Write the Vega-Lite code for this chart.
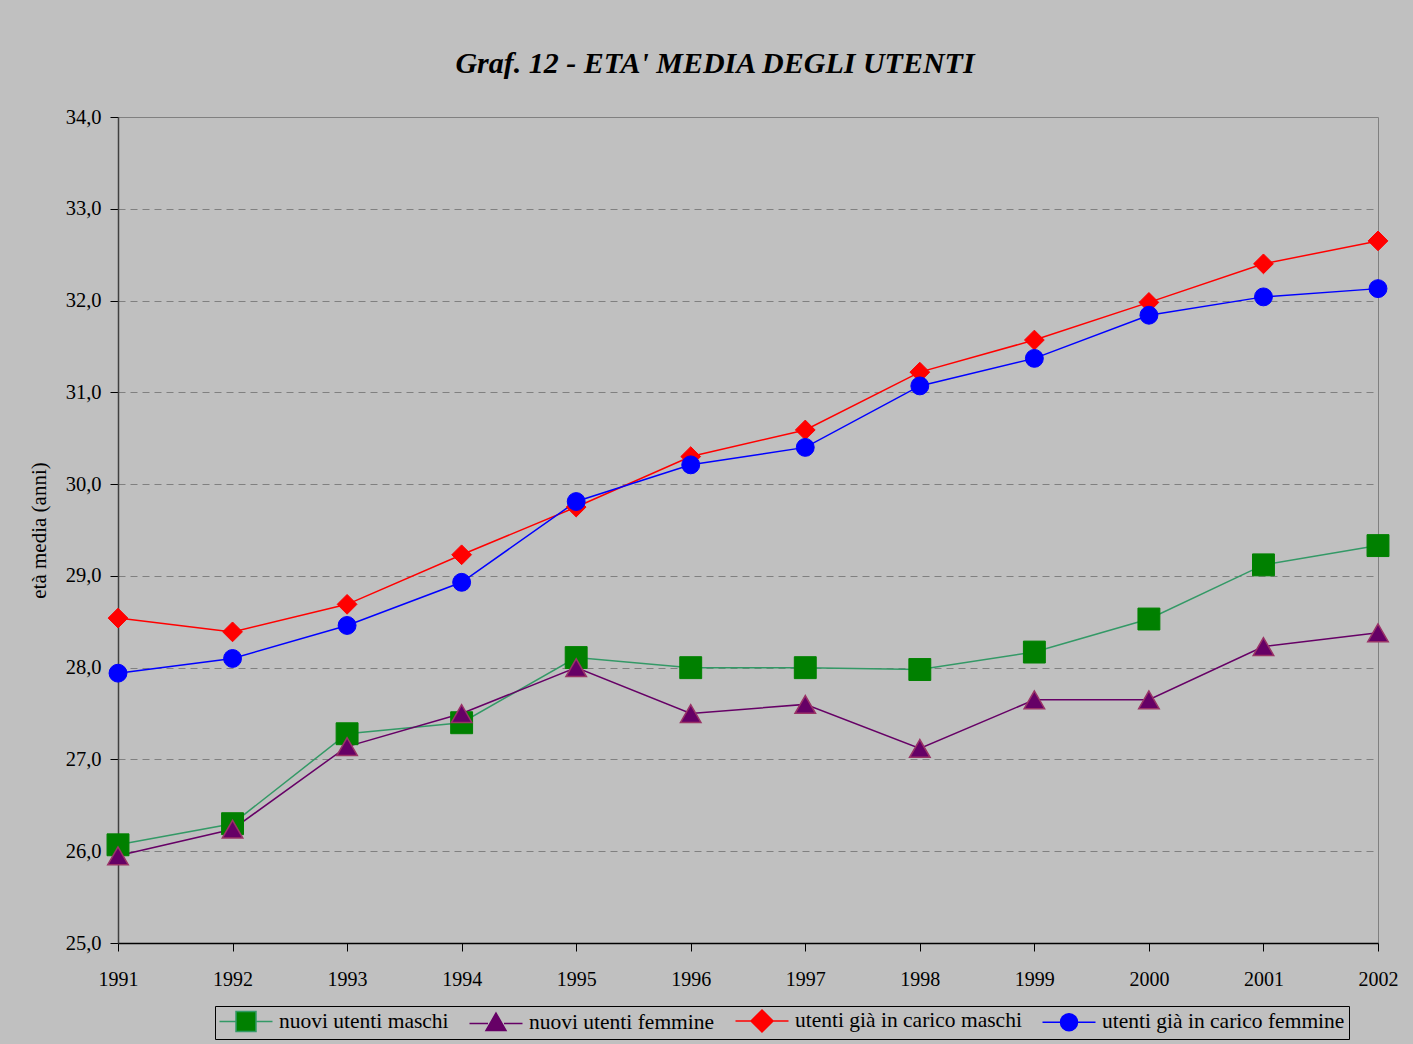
{
  "$schema": "https://vega.github.io/schema/vega-lite/v6.json",
  "width": 1260,
  "height": 826,
  "autosize": {"type": "none"},
  "padding": {"left": 118, "top": 117, "right": 35, "bottom": 101},
  "background": "#C0C0C0",
  "title": {
    "text": "Graf. 12 - ETA' MEDIA DEGLI UTENTI",
    "font": "Liberation Serif",
    "fontSize": 30,
    "fontStyle": "italic",
    "fontWeight": "bold",
    "color": "#000000",
    "anchor": "middle",
    "dx": -33,
    "offset": 28
  },
  "config": {
    "view": {"stroke": "#808080", "strokeWidth": 1},
    "axis": {"labelFont": "Liberation Serif", "titleFont": "Liberation Serif", "labelColor": "#000000", "titleColor": "#000000"}
  },
  "data": {
    "values": [
      {"anno": 1991, "serie": "nuovi utenti maschi", "eta": 26.07},
      {"anno": 1992, "serie": "nuovi utenti maschi", "eta": 26.30},
      {"anno": 1993, "serie": "nuovi utenti maschi", "eta": 27.28},
      {"anno": 1994, "serie": "nuovi utenti maschi", "eta": 27.40},
      {"anno": 1995, "serie": "nuovi utenti maschi", "eta": 28.11},
      {"anno": 1996, "serie": "nuovi utenti maschi", "eta": 28.00},
      {"anno": 1997, "serie": "nuovi utenti maschi", "eta": 28.00},
      {"anno": 1998, "serie": "nuovi utenti maschi", "eta": 27.98},
      {"anno": 1999, "serie": "nuovi utenti maschi", "eta": 28.17},
      {"anno": 2000, "serie": "nuovi utenti maschi", "eta": 28.53},
      {"anno": 2001, "serie": "nuovi utenti maschi", "eta": 29.12},
      {"anno": 2002, "serie": "nuovi utenti maschi", "eta": 29.33},
      {"anno": 1991, "serie": "nuovi utenti femmine", "eta": 25.95},
      {"anno": 1992, "serie": "nuovi utenti femmine", "eta": 26.24},
      {"anno": 1993, "serie": "nuovi utenti femmine", "eta": 27.14},
      {"anno": 1994, "serie": "nuovi utenti femmine", "eta": 27.50},
      {"anno": 1995, "serie": "nuovi utenti femmine", "eta": 28.00},
      {"anno": 1996, "serie": "nuovi utenti femmine", "eta": 27.50},
      {"anno": 1997, "serie": "nuovi utenti femmine", "eta": 27.60},
      {"anno": 1998, "serie": "nuovi utenti femmine", "eta": 27.12},
      {"anno": 1999, "serie": "nuovi utenti femmine", "eta": 27.65},
      {"anno": 2000, "serie": "nuovi utenti femmine", "eta": 27.65},
      {"anno": 2001, "serie": "nuovi utenti femmine", "eta": 28.23},
      {"anno": 2002, "serie": "nuovi utenti femmine", "eta": 28.38},
      {"anno": 1991, "serie": "utenti già in carico maschi", "eta": 28.54},
      {"anno": 1992, "serie": "utenti già in carico maschi", "eta": 28.39},
      {"anno": 1993, "serie": "utenti già in carico maschi", "eta": 28.69},
      {"anno": 1994, "serie": "utenti già in carico maschi", "eta": 29.23},
      {"anno": 1995, "serie": "utenti già in carico maschi", "eta": 29.75},
      {"anno": 1996, "serie": "utenti già in carico maschi", "eta": 30.30},
      {"anno": 1997, "serie": "utenti già in carico maschi", "eta": 30.59},
      {"anno": 1998, "serie": "utenti già in carico maschi", "eta": 31.22},
      {"anno": 1999, "serie": "utenti già in carico maschi", "eta": 31.57},
      {"anno": 2000, "serie": "utenti già in carico maschi", "eta": 31.98},
      {"anno": 2001, "serie": "utenti già in carico maschi", "eta": 32.40},
      {"anno": 2002, "serie": "utenti già in carico maschi", "eta": 32.65},
      {"anno": 1991, "serie": "utenti già in carico femmine", "eta": 27.94},
      {"anno": 1992, "serie": "utenti già in carico femmine", "eta": 28.10},
      {"anno": 1993, "serie": "utenti già in carico femmine", "eta": 28.46},
      {"anno": 1994, "serie": "utenti già in carico femmine", "eta": 28.93},
      {"anno": 1995, "serie": "utenti già in carico femmine", "eta": 29.81},
      {"anno": 1996, "serie": "utenti già in carico femmine", "eta": 30.21},
      {"anno": 1997, "serie": "utenti già in carico femmine", "eta": 30.40},
      {"anno": 1998, "serie": "utenti già in carico femmine", "eta": 31.07},
      {"anno": 1999, "serie": "utenti già in carico femmine", "eta": 31.37},
      {"anno": 2000, "serie": "utenti già in carico femmine", "eta": 31.84},
      {"anno": 2001, "serie": "utenti già in carico femmine", "eta": 32.04},
      {"anno": 2002, "serie": "utenti già in carico femmine", "eta": 32.13}
    ]
  },
  "encoding": {
    "x": {
      "field": "anno",
      "type": "quantitative",
      "scale": {"domain": [1991, 2002], "nice": false, "zero": false},
      "axis": {
        "title": null,
        "values": [1991, 1992, 1993, 1994, 1995, 1996, 1997, 1998, 1999, 2000, 2001, 2002],
        "format": "d",
        "grid": false,
        "domainColor": "#000000",
        "domainWidth": 1.5,
        "tickColor": "#000000",
        "tickWidth": 1,
        "tickSize": 8,
        "labelFontSize": 20,
        "labelPadding": 18,
        "labelFlush": false
      }
    },
    "y": {
      "field": "eta",
      "type": "quantitative",
      "scale": {"domain": [25, 34], "nice": false, "zero": false},
      "axis": {
        "title": "età media (anni)",
        "titleFontSize": 21,
        "titleFontWeight": "normal",
        "titlePadding": 16,
        "values": [25, 26, 27, 28, 29, 30, 31, 32, 33, 34],
        "labelExpr": "replace(format(datum.value, '.1f'), '.', ',')",
        "labelFontSize": 20.5,
        "labelPadding": 9,
        "tickSize": 8,
        "tickColor": "#000000",
        "domainColor": "#404040",
        "domainWidth": 1.5,
        "grid": true,
        "gridColor": "#808080",
        "gridDash": [7, 5],
        "gridWidth": 1
      }
    }
  },
  "layer": [
    {
      "mark": {"type": "line", "strokeWidth": 1.5},
      "encoding": {
        "stroke": {
          "field": "serie",
          "type": "nominal",
          "scale": {
            "domain": ["nuovi utenti maschi", "nuovi utenti femmine", "utenti già in carico maschi", "utenti già in carico femmine"],
            "range": ["#339966", "#660066", "#FF0000", "#0000FF"]
          }
        }
      }
    },
    {
      "transform": [{"filter": {"field": "serie", "equal": "nuovi utenti maschi"}}],
      "mark": {"type": "point", "shape": "square", "filled": true, "opacity": 1, "fill": "#008000", "stroke": "#008000", "strokeWidth": 1, "size": 480}
    },
    {
      "transform": [{"filter": {"field": "serie", "equal": "nuovi utenti femmine"}}],
      "mark": {"type": "point", "shape": "triangle-up", "filled": true, "opacity": 1, "fill": "#660066", "stroke": "#993366", "strokeWidth": 1.5, "size": 420}
    },
    {
      "transform": [{"filter": {"field": "serie", "equal": "utenti già in carico maschi"}}],
      "mark": {"type": "point", "shape": "diamond", "filled": true, "opacity": 1, "fill": "#FF0000", "stroke": "#FF0000", "strokeWidth": 1, "size": 390}
    },
    {
      "transform": [{"filter": {"field": "serie", "equal": "utenti già in carico femmine"}}],
      "mark": {"type": "point", "shape": "circle", "filled": true, "opacity": 1, "fill": "#0000FF", "stroke": "#0000FF", "strokeWidth": 1, "size": 320}
    },
    {
      "transform": [{"filter": "false"}],
      "mark": {"type": "point", "filled": true, "opacity": 1, "strokeWidth": 1.5},
      "encoding": {
        "shape": {
          "field": "serie",
          "type": "nominal",
          "scale": {
            "domain": ["nuovi utenti maschi", "nuovi utenti femmine", "utenti già in carico maschi", "utenti già in carico femmine"],
            "range": [
              "M-2.65,0H-1M1,0H2.65M-1,-1H1V1H-1Z",
              "M-2.65,0.1H-0.8M0.8,0.1H2.65M0,-0.95L1,0.8H-1Z",
              "M-2.65,0H2.65M0,-1.1L1.1,0L0,1.1L-1.1,0Z",
              "M-2.65,0H2.65M0.85,0A0.85,0.85,0,1,1,-0.85,0A0.85,0.85,0,1,1,0.85,0Z"
            ]
          },
          "legend": {
            "title": null,
            "orient": "none",
            "legendX": 97,
            "legendY": 889,
            "direction": "horizontal",
            "columns": 4,
            "columnPadding": 17,
            "padding": 4,
            "strokeColor": "#000000",
            "labelFont": "Liberation Serif",
            "labelFontSize": 21.5,
            "labelColor": "#000000",
            "labelOffset": 22,
            "labelLimit": 0,
            "symbolSize": 400,
            "symbolOffset": 16,
            "symbolStrokeWidth": 1.5,
            "symbolOpacity": 1
          }
        },
        "fill": {
          "field": "serie",
          "type": "nominal",
          "scale": {
            "domain": ["nuovi utenti maschi", "nuovi utenti femmine", "utenti già in carico maschi", "utenti già in carico femmine"],
            "range": ["#008000", "#660066", "#FF0000", "#0000FF"]
          }
        },
        "stroke": {
          "field": "serie",
          "type": "nominal",
          "scale": {
            "domain": ["nuovi utenti maschi", "nuovi utenti femmine", "utenti già in carico maschi", "utenti già in carico femmine"],
            "range": ["#339966", "#660066", "#FF0000", "#0000FF"]
          }
        }
      }
    }
  ]
}
